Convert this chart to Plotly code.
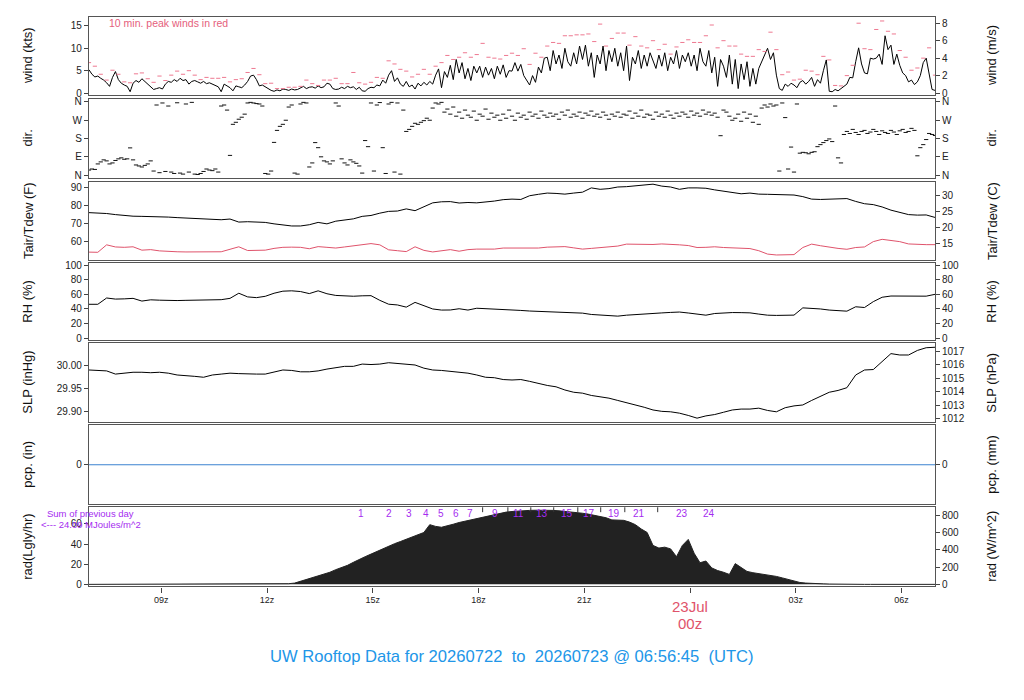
import pandas as pd
import plotly.graph_objects as go

# ---- values ----
start = '2026-07-22 06:57'
end = '2026-07-23 06:57'

# 5-minute wind speed (kts)
wind_kts = [
    5.2, 4.2, 3.6, 3.8, 3.3, 2.9, 2.3, 1.5, 3.5, 4.8, 3.0, 2.2,
    1.8, 1.5, 0.3, 2.2, 2.8, 2.4, 3.2, 2.6, 2.0, 1.2, 0.8, 1.0,
    1.2, 0.9, 2.0, 2.6, 2.4, 3.0, 2.6, 3.3, 2.8, 3.0, 2.0, 2.6,
    2.8, 2.5, 2.2, 2.6, 2.1, 2.3, 2.0, 1.8, 1.4, 0.3, 2.0, 1.6,
    1.2, 0.5, 1.6, 1.4, 1.2, 1.8, 2.6, 3.8, 4.0, 3.0, 1.6, 1.8,
    1.4, 1.0, 0.6, 0.4, 0.7, 0.5, 0.9, 0.8, 0.6, 0.9, 0.7, 0.8,
    1.2, 1.5, 1.0, 1.3, 1.4, 1.1, 1.6, 1.2, 1.4, 2.2, 2.0, 1.0,
    0.8, 0.9, 1.3, 1.0, 1.5, 1.2, 1.4, 0.8, 1.3, 0.5, 0.4, 1.0,
    1.3, 1.2, 1.8, 1.6, 2.9, 2.2, 4.0, 5.0, 2.6, 3.4, 2.0, 1.5,
    2.6, 1.4, 1.8, 0.9, 2.2, 1.6, 2.4, 1.8, 2.6, 2.0, 4.0, 5.4,
    1.2, 4.8, 3.5, 6.2, 3.0, 7.5, 4.5, 6.8, 3.2, 5.5, 2.8, 6.0,
    4.5, 6.0, 3.5, 5.8, 4.0, 5.5, 3.2, 6.0, 4.2, 6.3, 3.5, 5.0,
    4.9, 6.8, 4.9, 6.4, 3.9, 2.9, 1.8, 3.9, 2.4, 5.8, 4.5, 7.8,
    8.0, 5.0, 9.5, 6.5, 8.5, 5.5, 10.0, 7.0, 6.0, 9.0, 6.5, 10.5,
    7.5, 10.7, 6.0, 9.0, 3.5, 8.5, 6.5, 10.5, 5.0, 9.5, 7.0, 10.0,
    6.0, 9.0, 5.0, 10.5, 2.8, 8.0, 6.5, 9.5, 5.5, 8.5, 6.0, 9.0,
    7.0, 5.5, 8.5, 6.0, 9.0, 5.0, 8.0, 6.5, 9.5, 5.5, 8.5, 7.0,
    9.0, 6.0, 8.5, 5.0, 10.0, 7.0, 6.0, 9.5, 4.5, 8.0, 1.5, 7.5,
    6.0, 3.5, 8.5, 2.0, 7.5, 1.0, 6.5, 3.0, 7.0, 1.5, 5.5, 2.0,
    5.5, 7.0, 8.5, 10.0, 7.5, 9.0, 4.0, 1.0, 0.6, 2.0, 1.5, 2.2,
    1.8, 1.2, 2.4, 2.8, 2.0, 2.6, 3.5, 1.5, 3.0, 2.2, 5.0, 7.4,
    0.4, 0.3, 0.8, 0.5, 1.0, 1.6, 2.0, 3.5, 3.4, 7.0, 10.1, 6.5,
    4.5, 4.3, 7.8, 7.6, 7.8, 8.7, 6.4, 12.8, 9.7, 10.7, 6.4, 8.7,
    6.2, 4.5, 3.9, 2.5, 2.9, 1.9, 2.5, 3.9, 6.8, 7.8, 3.9, 0.8, 0.6,
]

# 5-minute wind direction (deg, 0 = N at bottom, 360 = N at top)
wind_dir = [
    25, 30, 28, 55, 65, 75, 70, 55, 60, 72, 80, 85,
    78, 80, 134, 75, 50, 45, 40, 48, 55, 70, 20, 345,
    12, 355, 18, 340, 15, 8, 356, 10, 5, 350, 15, 358,
    5, 3, 8, 18, 30, 25, 22, 30, 15, 340, 345, 320,
    97, 250, 260, 275, 285, 300, 355, 358, 355, 352, 350, 340,
    8, 5, 20, 161, 220, 240, 250, 270, 335, 345, 10, 5,
    350, 358, 355, 40, 60, 160, 135, 90, 70, 65, 55, 70,
    355, 340, 80, 60, 50, 75, 65, 58, 45, 10, 170, 140,
    355, 20, 345, 357, 135, 8, 350, 358, 15, 355, 5, 320,
    215, 225, 240, 255, 250, 260, 268, 280, 270, 330, 355, 350,
    358, 310, 325, 300, 335, 290, 310, 280, 320, 295, 285, 315,
    270, 300, 290, 325, 275, 305, 285, 295, 270, 300, 280, 320,
    290, 270, 305, 285, 295, 275, 310, 290, 300, 280, 315, 295,
    285, 305, 290, 300, 275, 310, 295, 320, 285, 300, 290, 310,
    280, 305, 295, 315, 290, 300, 285, 310, 295, 275, 300, 290,
    310, 285, 300, 295, 315, 280, 305, 290, 320, 285, 300, 295,
    275, 310, 290, 300, 285, 315, 295, 280, 305, 290, 310, 300,
    285, 315, 295, 305, 290, 320, 300, 310, 295, 305, 285, 194,
    320, 310, 290, 270, 280, 300, 265, 310, 280, 300, 260, 290,
    250, 330, 345, 335, 350, 340, 345, 20, 355, 283, 30, 138,
    15, 350, 108, 112, 110, 105, 112, 115, 140, 150, 160, 170,
    178, 165, 340, 85, 60, 200, 215, 205, 225, 210, 200, 215,
    220, 205, 212, 225, 215, 200, 218, 210, 205, 220, 212, 200,
    218, 225, 210, 215, 230, 220, 95, 135, 150, 175, 205, 200, 195,
]

# 10-minute peak wind (kts)
peak_kts = [
    6.8, 6.0, 4.2, 2.9, 5.1, 4.2, 2.5, 2.3, 4.3, 4.5,
    3.2, 2.4, 3.8, 2.8, 4.0, 4.9, 4.2, 5.0, 4.0, 3.0,
    3.5, 3.3, 3.3, 3.5, 2.5, 3.0, 3.2, 4.6, 5.5, 4.1,
    2.1, 2.2, 1.0, 1.0, 1.3, 1.3, 1.5, 2.9, 2.1, 1.7,
    2.9, 2.9, 3.3, 2.1, 2.1, 4.6, 2.3, 2.0, 2.4, 3.5,
    3.3, 7.2, 6.5, 5.3, 4.9, 3.6, 4.2, 5.3, 4.2, 6.0,
    6.8, 8.4, 7.5, 8.0, 9.0, 8.0, 8.6, 11.1, 8.0, 7.8,
    7.6, 8.4, 8.9, 8.4, 9.9, 6.4, 8.9, 8.0, 10.5, 11.3,
    11.1, 12.8, 12.8, 13.0, 13.0, 13.2, 11.5, 15.4, 10.5, 12.2,
    13.4, 13.4, 10.7, 12.6, 10.5, 10.1, 11.7, 9.7, 10.9, 8.7,
    10.3, 11.3, 11.9, 11.3, 11.3, 12.8, 15.2, 10.1, 11.7, 10.5,
    10.5, 8.7, 8.2, 8.2, 9.7, 9.3, 13.6, 9.7, 4.1, 4.7,
    2.9, 3.1, 5.1, 4.9, 4.1, 8.2, 7.4, 1.7, 1.6, 3.9,
    6.2, 15.6, 9.9, 9.7, 14.2, 16.1, 13.8, 13.2, 9.5, 8.0,
    5.1, 5.6, 7.8, 10.1, 4.0,
]

# 15-minute air temperature / dew point (F), RH (%), SLP (inHg)
tair_f = [
    76.1, 76.0, 75.6, 75.0, 74.4, 74.1, 74.0, 74.0, 73.8, 73.6,
    73.3, 73.0, 72.6, 72.3, 72.2, 72.1, 72.5, 70.8, 71.0, 71.0,
    70.6, 69.8, 69.0, 68.6, 68.6, 69.3, 70.6, 69.8, 71.3, 72.0,
    72.6, 74.0, 74.5, 75.8, 76.8, 77.0, 78.2, 77.2, 79.2, 81.6,
    82.2, 82.3, 81.5, 81.8, 81.6, 82.0, 82.6, 83.4, 83.7, 83.5,
    85.6, 86.4, 87.1, 86.9, 86.5, 87.1, 87.6, 90.0, 89.2, 89.6,
    90.5, 90.7, 91.2, 91.9, 92.1, 91.0, 90.5, 89.2, 90.0, 90.0,
    89.8, 88.9, 88.3, 87.4, 86.7, 87.1, 86.5, 86.4, 86.4, 86.0,
    86.0, 85.1, 83.7, 83.5, 83.8, 84.0, 84.0, 82.4, 81.1, 80.6,
    79.3, 77.5, 76.1, 75.0, 74.7, 74.8, 73.4,
]
tdew_f = [
    53.9, 53.8, 58.0, 56.8, 56.6, 56.9, 55.0, 55.3, 54.6, 54.2,
    54.1, 54.0, 54.1, 54.1, 54.0, 54.1, 55.5, 56.9, 54.8, 54.9,
    55.0, 56.0, 56.6, 56.7, 56.6, 55.8, 57.0, 56.6, 56.2, 56.8,
    57.3, 58.0, 58.7, 58.0, 55.2, 54.7, 54.2, 56.9, 54.9, 54.0,
    54.6, 55.3, 54.4, 55.3, 55.6, 55.7, 55.6, 56.2, 56.1, 56.0,
    55.9, 56.2, 56.7, 56.9, 57.0, 56.3, 55.6, 56.0, 56.3, 56.9,
    57.3, 58.4, 58.3, 58.0, 58.2, 58.5, 58.4, 58.0, 57.6, 56.5,
    56.6, 56.9, 56.5, 56.3, 56.0, 55.9, 54.7, 52.8, 52.3, 52.4,
    52.5, 56.5, 58.4, 57.5, 56.6, 56.0, 55.5, 56.5, 56.8, 59.8,
    61.1, 60.6, 59.8, 58.5, 58.2, 58.1, 58.1,
]
rh_pct = [
    46.4, 46.4, 55.0, 53.5, 53.8, 54.5, 50.8, 52.5, 52.0, 51.4,
    51.5, 51.8, 52.2, 52.6, 52.7, 52.7, 54.5, 61.5, 56.5, 55.5,
    57.3, 61.5, 64.3, 64.8, 63.8, 61.0, 64.8, 60.8, 58.5, 57.5,
    57.4, 58.0, 58.2, 51.8, 46.5, 45.5, 42.5, 49.0, 45.0, 40.0,
    38.5, 38.6, 40.3, 38.5, 41.0, 40.6, 40.2, 39.5, 39.2, 38.0,
    37.2, 36.8, 36.5, 36.2, 36.0, 35.4, 34.3, 32.5, 31.5, 30.7,
    30.2, 31.5, 32.5, 33.4, 33.8, 34.6, 35.3, 35.8, 34.5, 32.6,
    31.5, 33.8, 34.8, 35.1, 35.0, 34.7, 33.0, 31.5, 31.2, 31.0,
    31.6, 41.5, 41.0, 40.0, 38.5, 38.0, 37.0, 43.0, 42.0, 50.0,
    56.0, 57.7, 57.7, 57.2, 56.8, 57.5, 60.0,
]
slp_inhg = [
    29.991, 29.990, 29.989, 29.982, 29.984, 29.986, 29.986, 29.985, 29.986, 29.984,
    29.980, 29.979, 29.977, 29.975, 29.980, 29.982, 29.984, 29.983, 29.982, 29.982,
    29.982, 29.986, 29.991, 29.990, 29.987, 29.987, 29.989, 29.993, 29.996, 29.999,
    29.999, 30.004, 30.003, 30.004, 30.007, 30.005, 30.004, 30.002, 29.995, 29.991,
    29.990, 29.988, 29.986, 29.984, 29.980, 29.975, 29.974, 29.970, 29.969, 29.970,
    29.966, 29.961, 29.957, 29.954, 29.947, 29.942, 29.940, 29.935, 29.932, 29.929,
    29.924, 29.919, 29.915, 29.909, 29.903, 29.900, 29.899, 29.896, 29.891, 29.885,
    29.890, 29.893, 29.898, 29.903, 29.905, 29.905, 29.907, 29.902, 29.899, 29.908,
    29.912, 29.914, 29.924, 29.933, 29.942, 29.946, 29.952, 29.980, 29.991, 29.992,
    30.010, 30.027, 30.024, 30.024, 30.034, 30.040, 30.041,
]
pcp_in = [0.0, 0.0]  # no rain all day (start, end)

# 10-minute solar radiation (W/m^2)
rad_wm2 = [
    0, 0, 0, 0, 0, 0, 0, 0, 0, 0, 0, 0, 0, 0, 0, 0, 0, 0, 0, 0,
    0, 0, 0, 0, 0, 0, 0, 0, 0, 0, 0,
    1, 2, 4, 8, 15, 35, 55, 75, 95, 115, 140, 170, 195, 220, 255,
    290, 320, 350, 380, 415, 440, 470, 495, 520, 545, 575, 600,
    690, 670, 660, 675, 695, 715, 730, 750, 765, 780, 795, 810, 825, 835, 842,
    848, 852, 855, 857, 858, 857, 855, 850, 845, 838, 830, 822, 812, 800,
    790, 770, 745, 745, 740, 720, 690, 640, 600, 450, 420, 430, 410, 320, 450,
    520, 360, 250, 270, 190, 160, 140, 115, 240, 190, 150, 135, 125, 118, 110,
    92, 75, 55, 40, 22, 15, 10, 8, 6, 4, 2,
    0, 0, 0, 0, 0, 0, 0, 0, 0, 0, 0, 0, 0, 0, 0, 0, 0,
]

# times where the running total passes each MJ/m^2 (labels skipped where crowded)
mj_times = ['14:40', '15:28', '16:02', '16:31', '16:56', '17:22', '17:45', '18:07',
            '18:28', '18:50', '19:08', '19:29', '19:48', '20:08', '20:30', '20:49',
            '21:08', '21:28', '21:50', '22:09', '22:34', '23:05', '23:47', '24:32']
mj_labels = ['1', '2', '3', '4', '5', '6', '7', '', '9', '', '11', '', '13', '',
             '15', '', '17', '', '19', '', '21', '', '23', '24']
rad_total = '24.09'

xtick_times = ['2026-07-22 09:00', '2026-07-22 12:00', '2026-07-22 15:00', '2026-07-22 18:00',
               '2026-07-22 21:00', '2026-07-23 00:00', '2026-07-23 03:00', '2026-07-23 06:00']
xtick_text = ['09z', '12z', '15z', '18z', '21z', '', '03z', '06z']

# ---- build ----
t5 = pd.date_range(start, periods=len(wind_kts), freq='5min')
t10 = pd.date_range(start, periods=len(peak_kts), freq='10min')
t15 = pd.date_range(start, periods=len(tair_f), freq='15min')
mj_ts = [pd.Timestamp('2026-07-22') + pd.Timedelta(hours=int(s[:2]), minutes=int(s[3:])) for s in mj_times]

KTS_MS = 1.9438
HPA = 33.8639
LY = 11.63

W, H = 1024, 700
OFF = 8  # page margin around the plot div
FONT = 'Liberation Sans, Arial, sans-serif'
RED = '#df536b'
PURPLE = '#a52cf0'


def xp(px):
    return (px - OFF) / W


def yp(py):
    return 1 - (py - OFF) / H


XDOM = [xp(89), xp(935)]

# (top px, bottom px, left range, left ticks, left text, left title, right range, right ticks, right text, right title)
wr = [-0.44, 17.0]
fr = [49.4, 93.3]
sr = [29.876, 30.050]
rr = [-22.9, 891]
panels = [
    (13, 92, wr, [0, 5, 10, 15], None, 'wind (kts)',
     [v / KTS_MS for v in wr], [0, 2, 4, 6, 8], None, 'wind (m/s)'),
    (96, 176, [-14.6, 374.6], [0, 90, 180, 270, 360], ['N', 'E', 'S', 'W', 'N'], 'dir.',
     [-14.6, 374.6], [0, 90, 180, 270, 360], ['N', 'E', 'S', 'W', 'N'], 'dir.'),
    (180, 259, fr, [60, 70, 80, 90], None, 'Tair/Tdew (F)',
     [(v - 32) / 1.8 for v in fr], [15, 20, 25, 30], None, 'Tair/Tdew (C)'),
    (262, 340, [-2.7, 102.7], [0, 20, 40, 60, 80, 100], None, 'RH (%)',
     [-2.7, 102.7], [0, 20, 40, 60, 80, 100], None, 'RH (%)'),
    (343, 423, sr, [29.90, 29.95, 30.00], ['29.90', '29.95', '30.00'], 'SLP (inHg)',
     [v * HPA for v in sr], [1012, 1013, 1014, 1015, 1016, 1017], None, 'SLP (hPa)'),
    (426, 506, [-1, 1], [0], None, 'pcp. (in)',
     [-25.4, 25.4], [0], None, 'pcp. (mm)'),
    (509, 589, [v / LY for v in rr], [0, 20, 40, 60], None, 'rad(Lgly/hr)',
     rr, [0, 200, 400, 600, 800], None, 'rad (W/m^2)'),
]

fig = go.Figure()

# wind speed + peaks
fig.add_trace(go.Scatter(x=t5, y=wind_kts, mode='lines', line=dict(color='black', width=1),
                         xaxis='x', yaxis='y'))
fig.add_trace(go.Scatter(x=t10, y=peak_kts, mode='markers', xaxis='x', yaxis='y',
                         marker=dict(symbol='line-ew', size=3, line=dict(color='#ee7890', width=1))))
# direction
fig.add_trace(go.Scatter(x=t5, y=wind_dir, mode='markers', xaxis='x2', yaxis='y2',
                         marker=dict(symbol='line-ew', size=3, line=dict(color='#111', width=1))))
# temperature / dew point
fig.add_trace(go.Scatter(x=t15, y=tair_f, mode='lines', line=dict(color='black', width=1),
                         xaxis='x3', yaxis='y3'))
fig.add_trace(go.Scatter(x=t15, y=tdew_f, mode='lines', line=dict(color=RED, width=1),
                         xaxis='x3', yaxis='y3'))
# RH
fig.add_trace(go.Scatter(x=t15, y=rh_pct, mode='lines', line=dict(color='black', width=1),
                         xaxis='x4', yaxis='y4'))
# SLP
fig.add_trace(go.Scatter(x=t15, y=slp_inhg, mode='lines', line=dict(color='black', width=1),
                         xaxis='x5', yaxis='y5'))
# precip
fig.add_trace(go.Scatter(x=[t15[0], t15[-1]], y=pcp_in, mode='lines', line=dict(color='#3b82d0', width=1.2),
                         xaxis='x6', yaxis='y6'))
# radiation (on right W/m^2 axis)
fig.add_trace(go.Scatter(x=t10, y=rad_wm2, mode='lines', line=dict(color='#222222', width=1),
                         fill='tozeroy', fillcolor='#222222', xaxis='x7', yaxis='y14'))
# even MJ marks shown as small ticks under the top frame
tick_t = [t for t, lab in zip(mj_ts, mj_labels) if lab == '']
fig.add_trace(go.Scatter(x=tick_t, y=[rr[1]] * len(tick_t), mode='markers', xaxis='x7', yaxis='y14',
                         marker=dict(symbol='line-ns', size=7, line=dict(color='#333', width=1))))

layout = dict(width=W, height=H, margin=dict(l=0, r=0, t=0, b=0), showlegend=False,
              paper_bgcolor='white', plot_bgcolor='white',
              font=dict(family=FONT, size=10, color='#222'), hovermode=False)

ann = []
for i, p in enumerate(panels):
    n = i + 1
    sfx = '' if n == 1 else str(n)
    top, bot, lr, lt, ltx, ltitle, rrng, rt, rtx, rtitle = p
    dom = [yp(bot), yp(top)]
    xa = dict(domain=XDOM, range=[start, end], anchor='y' + sfx, showline=True, mirror=True,
              linecolor='#555', linewidth=1.3, showgrid=False, zeroline=False,
              ticks='', showticklabels=False)
    if n == 7:
        xa.update(tickmode='array', tickvals=xtick_times, ticktext=xtick_text, ticks='outside',
                  ticklen=5, tickcolor='#444', showticklabels=True, tickfont=dict(size=9, color='#222'))
    layout['xaxis' + sfx] = xa
    ya = dict(domain=dom, range=lr, anchor='x' + sfx, showline=True, mirror=True, linecolor='#555',
              linewidth=1.3, showgrid=False, zeroline=False, ticks='outside', ticklen=4,
              tickcolor='#444', tickmode='array', tickvals=lt, tickfont=dict(size=10, color='#222'))
    if ltx:
        ya['ticktext'] = ltx
    layout['yaxis' + sfx] = ya
    ra = dict(overlaying='y' + sfx, side='right', anchor='x' + sfx, range=rrng, showline=False,
              showgrid=False, zeroline=False, ticks='outside', ticklen=4, tickcolor='#444',
              tickmode='array', tickvals=rt, tickfont=dict(size=10, color='#222'))
    if rtx:
        ra['ticktext'] = rtx
    layout['yaxis' + str(n + 7)] = ra
    ymid = (dom[0] + dom[1]) / 2
    ann.append(dict(text=ltitle, x=xp(28), y=ymid, xref='paper', yref='paper', textangle=-90,
                    xanchor='center', yanchor='middle', showarrow=False,
                    font=dict(size=13, color='#111')))
    ann.append(dict(text=rtitle, x=xp(992), y=ymid, xref='paper', yref='paper', textangle=-90,
                    xanchor='center', yanchor='middle', showarrow=False,
                    font=dict(size=13, color='#111')))

# empty traces so every right-hand axis is drawn
for n in range(8, 14):
    fig.add_trace(go.Scatter(x=[], y=[], xaxis='x' + ('' if n == 8 else str(n - 7)), yaxis='y' + str(n)))
fig.add_trace(go.Scatter(x=[], y=[], xaxis='x7', yaxis='y7'))


def note(text, x, py, size, color, xref='paper', xanchor='center'):
    ann.append(dict(text=text, x=x, y=yp(py), xref=xref, yref='paper', xanchor=xanchor,
                    yanchor='middle', showarrow=False, font=dict(size=size, color=color)))


note('10 min. peak winds in red', xp(107), 19, 10.5, '#e5607c', xanchor='left')
for t, lab in zip(mj_ts, mj_labels):
    if lab:
        note(lab, t, 515, 10, PURPLE, xref='x7')
note('Sum of previous day', xp(90), 515, 9.5, PURPLE)
note('<--- ' + rad_total + ' MJoules/m^2', xp(91), 526, 9.5, PURPLE)
note('23Jul', xtick_times[5], 609, 15, RED, xref='x7')
note('00z', xtick_times[5], 627, 15, RED, xref='x7')
note('UW Rooftop Data for 20260722\u00a0 to\u00a0 20260723 @ 06:56:45\u00a0 (UTC)', xp(512), 660, 16.6,
     '#2196e8')
layout['annotations'] = ann

fig.update_layout(layout)
fig.write_html('out.html')
